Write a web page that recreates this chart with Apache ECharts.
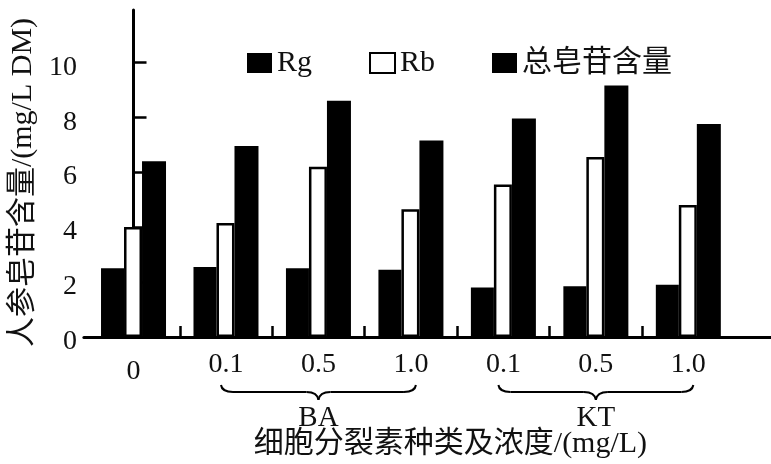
<!DOCTYPE html>
<html><head><meta charset="utf-8">
<script src="https://cdn.jsdelivr.net/npm/echarts@6/dist/echarts.min.js"></script>
<style>html,body{margin:0;padding:0;background:#fff}#c{width:771px;height:464px}</style>
</head><body><div id="c"></div>
<script>
const categories = ['0', '0.1', '0.5', '1.0', '0.1', '0.5', '1.0'];
const rgValues = [2.5, 2.55, 2.5, 2.45, 1.8, 1.85, 1.9];
const rbValues = [4.0, 4.15, 6.2, 4.65, 5.55, 6.55, 4.8];
const totalValues = [6.4, 6.95, 8.6, 7.15, 7.95, 9.15, 7.75];
const yTicks = [0, 2, 4, 6, 8, 10];
const seriesNames = ['Rg', 'Rb', '总皂苷含量'];
const groupNames = ['BA', 'KT'];
const groupFrom = [1, 4];
const groupTo = [3, 6];
const xTitle = '细胞分裂素种类及浓度/(mg/L)';
const yTitle = '人参皂苷含量/(mg/L DM)';

const FONT = '"Liberation Serif", "Times New Roman", "Noto Sans CJK SC", serif';
const chart = echarts.init(document.getElementById('c'), null, {renderer: 'canvas'});
const idx = categories.map((c, i) => i);
const between = idx.slice(0, -1).map(i => i + 0.5);

chart.setOption({
  animation: false,
  backgroundColor: '#fff',
  grid: {left: 80, right: 0, top: 10, bottom: 126, containLabel: false},
  legend: {
    data: seriesNames, left: 247, top: 48, padding: 0, icon: 'rect',
    itemWidth: 25, itemHeight: 20, itemGap: 57,
    textStyle: {fontFamily: FONT, fontSize: 30, color: '#111'}
  },
  xAxis: {
    type: 'value', min: -0.5366, max: 6.894,
    axisLine: {show: true, lineStyle: {color: '#000', width: 3}},
    axisTick: {show: true, inside: true, length: 11, lineStyle: {color: '#000', width: 2.5}, customValues: between},
    axisLabel: {
      customValues: idx, margin: 14, fontFamily: FONT, fontSize: 28, color: '#111',
      formatter: v => { const i = Math.round(v); return i === 0 ? '{z|' + categories[i] + '}' : '{n|' + categories[i] + '}'; },
      rich: {
        z: {fontFamily: FONT, fontSize: 28, color: '#111', padding: [7, 0, 0, 0]},
        n: {fontFamily: FONT, fontSize: 28, color: '#111'}
      }
    },
    splitLine: {show: false},
    name: xTitle, nameLocation: 'middle', nameGap: 92,
    nameTextStyle: {fontFamily: FONT, fontSize: 30, color: '#111', padding: [0, 0, 0, 46]}
  },
  yAxis: {
    type: 'value', min: 0, max: 11.9,
    axisLine: {show: true, lineStyle: {color: '#000', width: 3}},
    axisTick: {show: true, inside: true, length: 13, lineStyle: {color: '#000', width: 2.5}, customValues: yTicks},
    axisLabel: {
      customValues: yTicks, margin: 7, fontFamily: FONT, fontSize: 28, color: '#111',
      formatter: v => '{a|' + v + '}',
      rich: {a: {fontFamily: FONT, fontSize: 28, color: '#111', padding: [10, 0, 0, 0]}}
    },
    splitLine: {show: false},
    name: yTitle, nameLocation: 'middle', nameRotate: 90, nameGap: 34,
    nameTextStyle: {fontFamily: FONT, fontSize: 30, color: '#111', padding: [0, 18, 0, 0]}
  },
  series: [
    {name: seriesNames[0], type: 'bar', barWidth: 23, barGap: '0%', data: rgValues.map((v, i) => [i, v]),
     itemStyle: {color: '#000'}},
    {name: seriesNames[1], type: 'bar', barWidth: 18, barGap: '0%', data: rbValues.map((v, i) => [i, v]),
     itemStyle: {color: '#fff', borderColor: '#000', borderWidth: 2.5}},
    {name: seriesNames[2], type: 'bar', barWidth: 24, barGap: '0%', data: totalValues.map((v, i) => [i, v]),
     itemStyle: {color: '#000'}}
  ]
});

// braces and group labels positioned through the axis scale
const px = v => chart.convertToPixel({gridIndex: 0}, [v, 0]);
const elements = [];
groupNames.forEach((g, k) => {
  const a = px(groupFrom[k])[0], b = px(groupTo[k])[0];
  const xc = (a + b) / 2, half = (b - a) / 2 + 5;
  const xL = xc - half, xR = xc + half;
  const yTop = 385, yMid = 392, yTip = 400, r = 12;
  const ls = {stroke: '#000', lineWidth: 2, fill: null};
  elements.push(
    {type: 'bezierCurve', shape: {x1: xL, y1: yTop, x2: xL + r, y2: yMid, cpx1: xL + 1, cpy1: yMid}, style: ls},
    {type: 'line', shape: {x1: xL + r, y1: yMid, x2: xc - r, y2: yMid}, style: ls},
    {type: 'bezierCurve', shape: {x1: xc - r, y1: yMid, x2: xc, y2: yTip, cpx1: xc - 1, cpy1: yMid}, style: ls},
    {type: 'bezierCurve', shape: {x1: xc, y1: yTip, x2: xc + r, y2: yMid, cpx1: xc + 1, cpy1: yMid}, style: ls},
    {type: 'line', shape: {x1: xc + r, y1: yMid, x2: xR - r, y2: yMid}, style: ls},
    {type: 'bezierCurve', shape: {x1: xR - r, y1: yMid, x2: xR, y2: yTop, cpx1: xR - 1, cpy1: yMid}, style: ls},
    {type: 'text', style: {text: g, x: xc, y: 418, textAlign: 'center', textVerticalAlign: 'middle',
      font: '29px ' + FONT, fill: '#111'}}
  );
});
chart.setOption({graphic: {elements: elements}});
</script></body></html>
